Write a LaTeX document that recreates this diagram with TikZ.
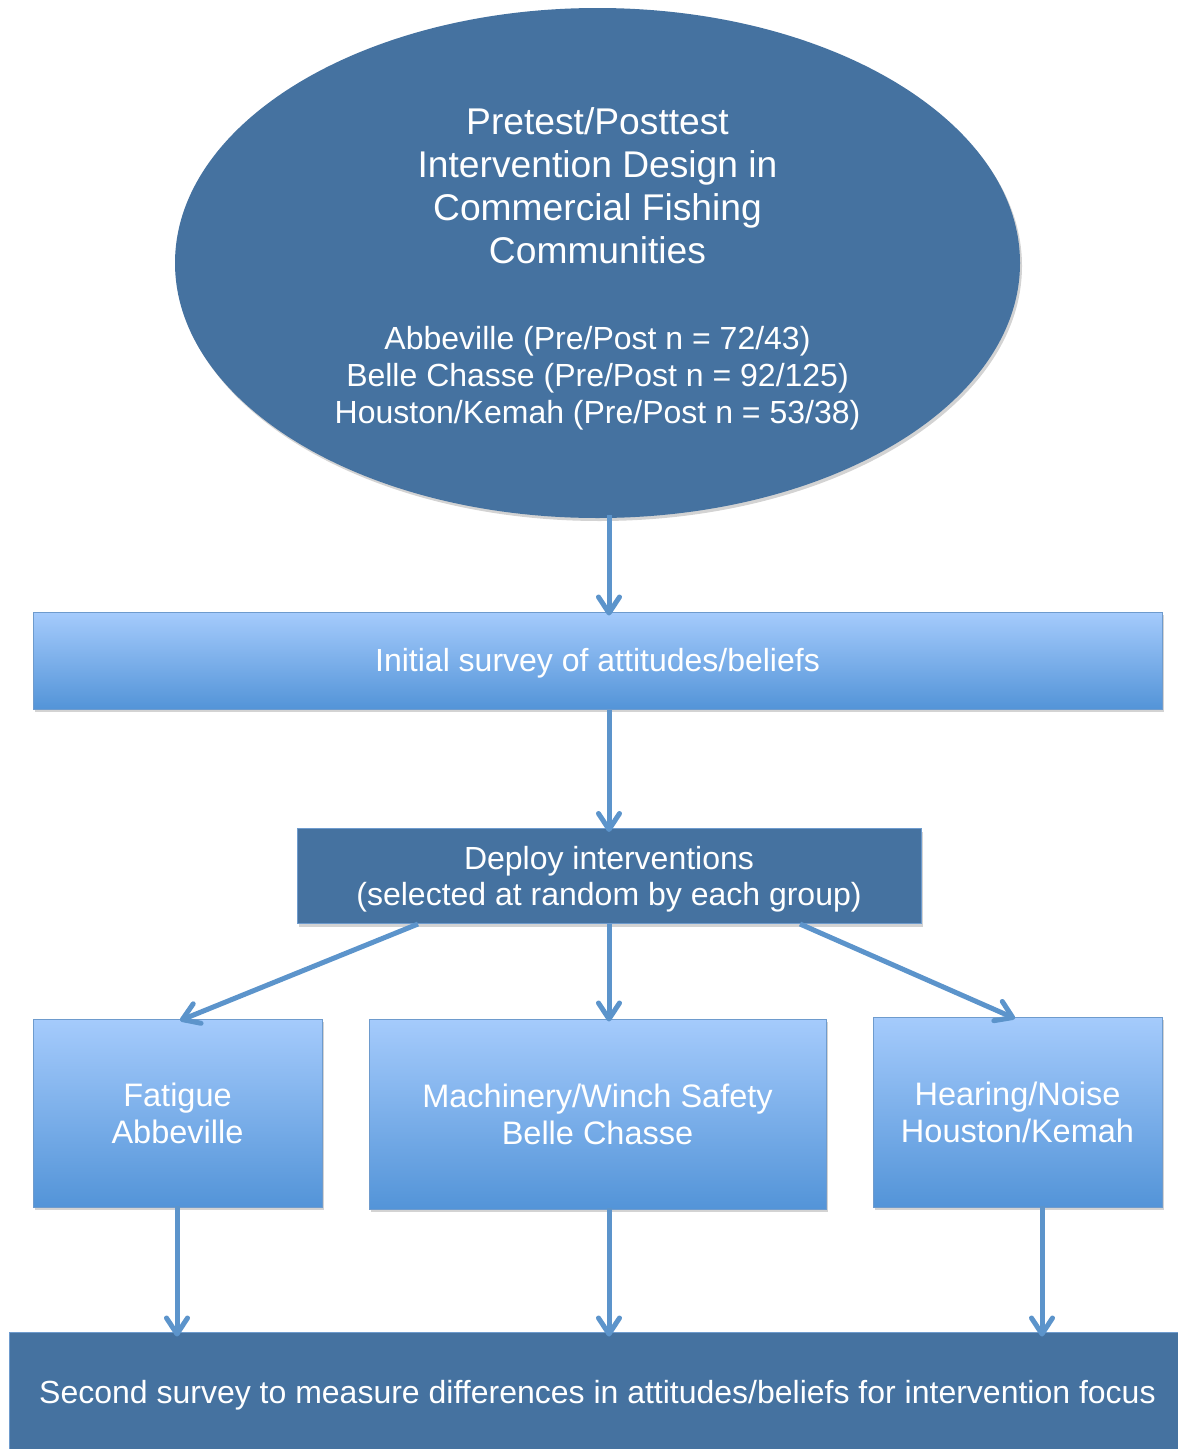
\documentclass[tikz,border=0pt]{standalone}
\usepackage{fontspec}
\setmainfont{Liberation Sans}
\usetikzlibrary{arrows.meta,shapes.geometric,shadows}
\definecolor{darkblue}{RGB}{69,114,160}
\definecolor{lighttop}{RGB}{165,203,252}
\definecolor{lightbot}{RGB}{83,148,216}
\definecolor{edgeblue}{RGB}{110,155,205}
\definecolor{arrowblue}{RGB}{92,148,203}
\tikzset{
  shad/.style={drop shadow={opacity=0.35,shadow xshift=2pt,shadow yshift=-3pt}},
  darkbox/.style={rectangle,fill=darkblue,draw=edgeblue,line width=1pt,text=white,align=center,shad,inner sep=0pt},
  lightbox/.style={rectangle,top color=lighttop,bottom color=lightbot,draw=edgeblue,line width=1pt,text=white,align=center,shad,inner sep=0pt},
  arr/.style={draw=arrowblue,line width=5pt,-{Straight Barb[length=16pt,width=21pt,line width=5pt,round]}},
  bigtxt/.style={text=white,align=center,font=\fontsize{37.2}{43}\selectfont},
  midtxt/.style={font=\fontsize{32.5}{37}\selectfont},
}
\begin{document}
\begin{tikzpicture}[x=1pt,y=-1pt]
\useasboundingbox (0,0) rectangle (1178,1449);
% ellipse
\node[ellipse,fill=darkblue,shad,minimum width=845pt,minimum height=510pt,inner sep=0pt] (ell) at (597.5,263) {};
\node[bigtxt] (title) at (597.5,186) {Pretest/Posttest\\Intervention Design in\\Commercial Fishing\\Communities};
\node[text=white,align=center,font=\fontsize{32}{37}\selectfont] (sites) at (597.5,378) {Abbeville (Pre/Post n = 72/43)\\Belle Chasse (Pre/Post n = 92/125)\\Houston/Kemah (Pre/Post n = 53/38)};
% boxes
\node[lightbox,minimum width=1129pt,minimum height=97pt] (init) at (597.5,660.5) {};
\node[text=white,font=\fontsize{32}{37}\selectfont] (inittxt) at (597.5,663) {Initial survey of attitudes/beliefs};
\node[darkbox,minimum width=624pt,minimum height=95pt] (deploy) at (609,876) {};
\node[text=white,align=center,font=\fontsize{32}{36}\selectfont] (deploytxt) at (609,879) {Deploy interventions\\(selected at random by each group)};
\node[lightbox,minimum width=289pt,minimum height=188pt,midtxt] (fat) at (177.5,1113) {Fatigue\\Abbeville};
\node[lightbox,minimum width=457pt,minimum height=190pt,midtxt] (mach) at (597.5,1114) {Machinery/Winch Safety\\Belle Chasse};
\node[lightbox,minimum width=289pt,minimum height=190pt,midtxt] (hear) at (1017.5,1112) {Hearing/Noise\\Houston/Kemah};
\node[darkbox,minimum width=1180pt,minimum height=140pt] (second) at (599,1402) {};
\node[text=white,font=\fontsize{32}{37}\selectfont,anchor=west,inner sep=0pt] (secondtxt) at (39,1395) {Second survey to measure differences in attitudes/beliefs for intervention focus};
% arrows
\draw[arr] ([xshift=11.5pt,yshift=3pt]ell.south) -- ([xshift=11.5pt,yshift=-4pt]init.north);
\draw[arr] ([xshift=11.5pt]init.south) -- ([yshift=-4pt]deploy.north);
\draw[arr] ([xshift=-191pt]deploy.south) -- ([xshift=2.5pt,yshift=-2pt]fat.north);
\draw[arr] (deploy.south) -- ([xshift=11.5pt,yshift=-3pt]mach.north);
\draw[arr] ([xshift=191pt]deploy.south) -- ([xshift=-2.5pt,yshift=-2pt]hear.north);
\draw[arr] ([xshift=-0.5pt,yshift=2pt]fat.south) -- ([xshift=-422pt,yshift=-5pt]second.north);
\draw[arr] ([xshift=11.5pt,yshift=2pt]mach.south) -- ([xshift=10pt,yshift=-5pt]second.north);
\draw[arr] ([xshift=24.5pt,yshift=2pt]hear.south) -- ([xshift=443pt,yshift=-5pt]second.north);
\end{tikzpicture}
\end{document}
